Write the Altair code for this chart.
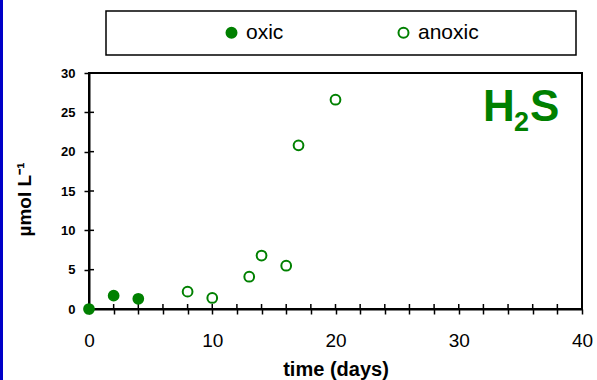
import altair as alt
import pandas as pd

# ---- data ----
oxic_day = [0, 2, 4]
oxic_h2s = [0.0, 1.7, 1.3]
anoxic_day = [8, 10, 13, 14, 16, 17, 20]
anoxic_h2s = [2.2, 1.4, 4.1, 6.8, 5.5, 20.8, 26.6]
series_names = ["oxic", "anoxic"]
x_ticks = list(range(0, 41, 2))
y_ticks = [0, 5, 10, 15, 20, 25, 30]

GREEN = "#008000"
FONT = "Liberation Sans"
W, H = 493, 236

df = pd.DataFrame({
    "day": oxic_day + anoxic_day,
    "h2s": oxic_h2s + anoxic_h2s,
    "series": ["oxic"] * len(oxic_day) + ["anoxic"] * len(anoxic_day),
})

xscale = alt.Scale(domain=[0, 40], nice=False, zero=True)
yscale = alt.Scale(domain=[0, 30], nice=False, zero=True)

x_axis = alt.Axis(
    values=x_ticks,
    labelExpr="datum.value % 10 == 0 ? datum.label : ''",
    title="time (days)", grid=False, labelFlush=False, labelOverlap=False,
    domainColor="black", domainWidth=2, tickColor="black", tickWidth=1.5, tickSize=5,
    labelFont=FONT, labelFontSize=19, labelColor="black", labelPadding=17,
    titleFont=FONT, titleFontSize=20, titleFontWeight="bold", titleColor="black",
    titlePadding=9,
)
y_axis = alt.Axis(
    values=y_ticks, title="µmol L⁻¹", grid=False, labelFlush=False,
    domainColor="black", domainWidth=2, tickColor="black", tickWidth=1.5, tickSize=5,
    labelFont=FONT, labelFontSize=13, labelFontWeight="bold", labelColor="black",
    labelPadding=9,
    titleFont=FONT, titleFontSize=19, titleFontWeight="bold", titleColor="black",
    titlePadding=26, titleY=126,
)

one = pd.DataFrame({"a": [0]})

points = alt.Chart(df).mark_point(
    filled=True, size=95, strokeWidth=2, stroke=GREEN, opacity=1, shape="circle"
).encode(
    x=alt.X("day:Q", scale=xscale, axis=x_axis),
    y=alt.Y("h2s:Q", scale=yscale, axis=y_axis),
    fill=alt.Fill("series:N",
                  scale=alt.Scale(domain=series_names, range=[GREEN, "white"]),
                  legend=alt.Legend(
                      orient="none", legendX=132, legendY=-51, direction="horizontal",
                      title=None, padding=0, columnPadding=109, labelOffset=4,
                      labelFont=FONT, labelFontSize=21, labelColor="black",
                      symbolType="circle", symbolSize=100,
                      symbolStrokeColor=GREEN, symbolStrokeWidth=2,
                  )),
)

# inner halves of the crossing tick marks
yt = alt.Chart(pd.DataFrame({"h2s": y_ticks})).mark_rule(color="black", strokeWidth=1.5).encode(
    y=alt.Y("h2s:Q", scale=yscale, axis=y_axis),
    x=alt.value(0), x2=alt.value(5),
)
xt = alt.Chart(pd.DataFrame({"day": x_ticks})).mark_rule(color="black", strokeWidth=1.5).encode(
    x=alt.X("day:Q", scale=xscale, axis=x_axis),
    y=alt.value(H), y2=alt.value(H - 5),
)

legend_box = alt.Chart(one).mark_rect(fillOpacity=0, stroke="black", strokeWidth=1.5).encode(
    x=alt.value(17), x2=alt.value(487), y=alt.value(-62), y2=alt.value(-18)
)

blue_bar = alt.Chart(one).mark_rect(fill="#0000c8").encode(
    x=alt.value(-89), x2=alt.value(-86), y=alt.value(-73), y2=alt.value(307)
)

h_txt = alt.Chart(one).mark_text(
    font=FONT, fontSize=44, fontWeight="bold", color=GREEN, align="left", baseline="alphabetic"
).encode(x=alt.value(394), y=alt.value(48), text=alt.value("H"))
two_txt = alt.Chart(one).mark_text(
    font=FONT, fontSize=27, fontWeight="bold", color=GREEN, align="left", baseline="alphabetic"
).encode(x=alt.value(425), y=alt.value(58), text=alt.value("2"))
s_txt = alt.Chart(one).mark_text(
    font=FONT, fontSize=44, fontWeight="bold", color=GREEN, align="left", baseline="alphabetic"
).encode(x=alt.value(441), y=alt.value(48), text=alt.value("S"))

chart = alt.layer(
    blue_bar, legend_box, yt, xt, points, h_txt, two_txt, s_txt
).properties(
    width=W, height=H,
    autosize=alt.AutoSizeParams(type="none"),
    padding={"left": 89, "top": 73, "right": 15, "bottom": 71},
    background="white",
).configure_view(stroke="black", strokeWidth=2)

chart.save("out.html", embed_options={"renderer": "svg", "actions": False})
